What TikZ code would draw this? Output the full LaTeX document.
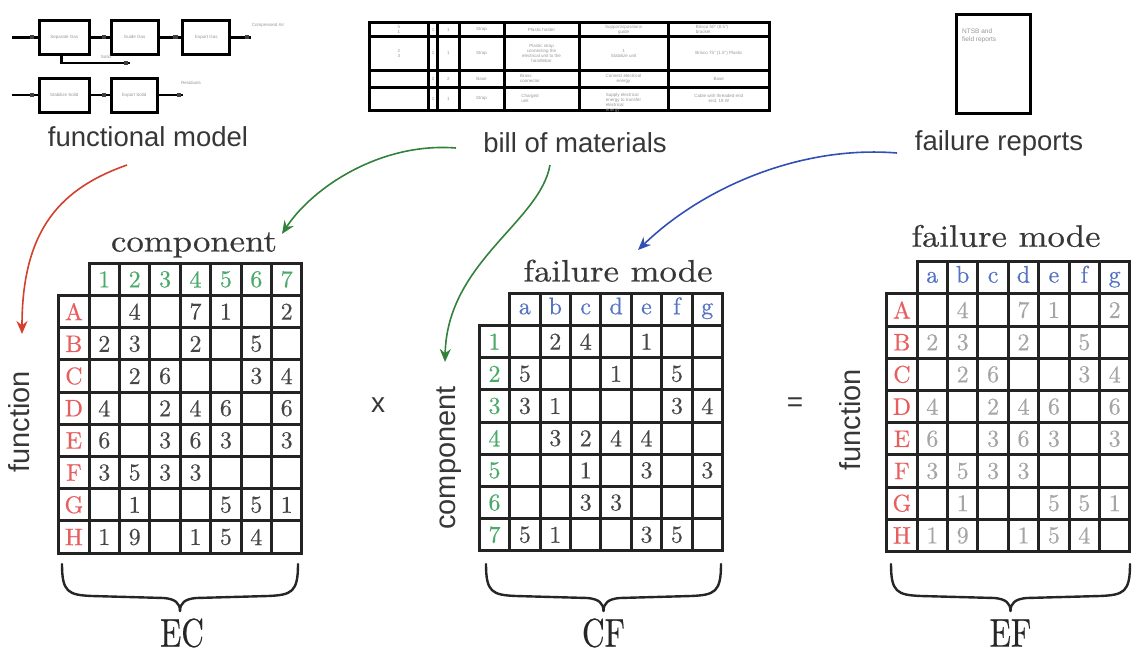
\documentclass[tikz,border=0pt]{standalone}
\usepackage{fontspec}
\newfontfamily\sansf{Liberation Sans}
\newfontfamily\serifm{lmroman10-regular}[Extension=.otf, FakeBold=0.5]
\usetikzlibrary{arrows.meta,decorations.markings}

\definecolor{gridc}{RGB}{35,35,35}
\definecolor{labc}{RGB}{55,55,55}
\definecolor{rowred}{RGB}{230,95,95}
\definecolor{colgreen}{RGB}{75,170,105}
\definecolor{fmblue}{RGB}{85,115,195}
\definecolor{valdark}{RGB}{70,70,70}
\definecolor{vallight}{RGB}{165,165,165}
\definecolor{arrred}{RGB}{210,65,45}
\definecolor{arrgreen}{RGB}{50,130,60}
\definecolor{arrblue}{RGB}{50,80,180}
\definecolor{tiny}{RGB}{150,150,150}

% cell size of the three matrices
\newcommand\mcw{30.4}
\newcommand\mch{32.2}

% grid of a matrix: left x, top y, number of body rows
\newcommand\matgrid[3]{%
  \draw[gridl] ({#1+\mcw},{#2}) rectangle ({#1+8*\mcw},{#2+\mch});
  \draw[gridl] ({#1},{#2+\mch}) rectangle ({#1+8*\mcw},{#2+(#3+1)*\mch});
  \foreach \k in {2,...,#3}
    \draw[gridl] ({#1},{#2+\k*\mch}) -- ({#1+8*\mcw},{#2+\k*\mch});
  \foreach \c in {1,...,7}
    \draw[gridl] ({#1+\c*\mcw},{#2}) -- ({#1+\c*\mcw},{#2+(#3+1)*\mch});
}

% entries of a matrix: prefix, left x, top y, colour, rows ("x" = empty cell)
\newcommand\matvals[5]{%
  \foreach \row [count=\i] in {#5} {
    \foreach \v [count=\j] in \row {
      \if\v x\else
        \node[cell, text=#4] (#1-\i-\j) at ({#2+(\j+0.5)*\mcw},{#3+(\i+0.5)*\mch}) {\v};
      \fi
    }
  }
}

% curly brace under a matrix: left x, right x, top y
\newcommand\matbrace[3]{%
  \pgfmathsetmacro\bm{(#1+#2)/2}
  \draw[bracel] (#1,#3) .. controls (#1,{#3+28}) and ({#1+6},{#3+31}) .. ({#1+30},{#3+32})
     -- ({\bm-16},{#3+34}) .. controls ({\bm-5},{#3+35}) and (\bm,{#3+39}) .. (\bm,{#3+47});
  \draw[bracel] (#2,#3) .. controls (#2,{#3+28}) and ({#2-6},{#3+31}) .. ({#2-30},{#3+32})
     -- ({\bm+16},{#3+34}) .. controls ({\bm+5},{#3+35}) and (\bm,{#3+39}) .. (\bm,{#3+47});
}

\begin{document}
\begin{tikzpicture}[x=1pt,y=-1pt,
  gridl/.style={line width=3pt, draw=gridc, line cap=rect},
  cell/.style={font=\serifm\fontsize{24}{24}\selectfont, inner sep=0pt},
  mtitle/.style={font=\serifm\fontsize{31}{31}\selectfont, text=labc, anchor=base, inner sep=0pt, xscale=1.12},
  sidelab/.style={font=\sansf\fontsize{29}{29}\selectfont, text=labc, rotate=90, anchor=base, inner sep=0pt},
  srclab/.style={font=\sansf\fontsize{27.5}{27.5}\selectfont, text=labc, inner sep=0pt},
  oplab/.style={font=\sansf\fontsize{28}{28}\selectfont, text=labc, inner sep=0pt},
  matname/.style={font=\serifm\fontsize{40}{40}\selectfont, text=black!85, xscale=0.78, inner sep=0pt},
  bracel/.style={line width=2.4pt, draw=black!85, line cap=round},
  fbox/.style={draw=black, line width=3pt, inner sep=0pt, minimum height=34pt,
    font=\sansf\fontsize{4.5}{5}\selectfont, text=tiny},
  flow/.style={line width=2.6pt, draw=black, postaction={decorate},
    decoration={markings, mark=at position #1 with {\fill[black!75] (-2.2,-2.2) rectangle (2.2,2.2);}}},
  flow/.default={-6pt},
  tinytxt/.style={font=\sansf\fontsize{4.5}{5.2}\selectfont, text=tiny, inner sep=0pt, align=center},
  bomline/.style={line width=3pt, draw=black, line cap=rect},
  srcarrow/.style={line width=1.6pt, -{Stealth[length=13pt,width=11pt]}},
]
\useasboundingbox (0,0) rectangle (1136,656);

%% ---------------- functional model ----------------
\node[fbox, minimum width=50pt]  (b1) at (64.3,37.2) {Separate Gas};
\node[fbox, minimum width=47pt]  (b2) at (134.7,37.2) {Guide Gas};
\node[fbox, minimum width=47pt]  (b3) at (206.3,37.2) {Export Gas};
\node[fbox, minimum width=50pt]  (b4) at (64.3,95) {Stabilize Solid};
\node[fbox, minimum width=46pt]  (b5) at (134.2,95) {Export Solid};
\coordinate (in1) at (12,37.2);
\coordinate (out1) at (251,37.2);
\coordinate (fb1) at (61.7,63);
\coordinate (fb2) at (130,63);
\coordinate (in2) at (12,95);
\coordinate (out2) at (183,95);
\draw[flow] (in1) -- (b1.west);
\draw[flow] (b1.east) -- (b2.west);
\draw[flow] (b2.east) -- (b3.west);
\draw[flow=-4pt] (b3.east) -- (out1);
\draw[flow=-4pt] (b1.south -| fb1) -- (fb1) -- (fb2);
\draw[flow] (in2) -- (b4.west);
\draw[flow] (b4.east) -- (b5.west);
\draw[flow=-4pt] (b5.east) -- (out2);
\node[tinytxt] (l1) at (268,25) {Compressed Air};
\node[tinytxt] (l2) at (106,57) {Solid};
\node[tinytxt] (l3) at (191,83) {Residuals};
\node[srclab] (fmlab) at (148,137) {functional model};

%% ---------------- bill of materials ----------------
\draw[bomline] (369.3,22.7) rectangle (769.3,110);
\foreach \yy in {36.7,70,87.3} \draw[bomline] (369.3,\yy) -- (769.3,\yy);
\foreach \xx in {428.3,437.7,459,504,579,668.3} \draw[bomline] (\xx,22.7) -- (\xx,110);
\node[tinytxt] (t11) at (398.8,29.7) {5\\1};
\node[tinytxt] (t12) at (433,29.7) {1};
\node[tinytxt] (t13) at (448.3,29.7) {1};
\node[tinytxt] (t14) at (481.5,29.7) {Strap};
\node[tinytxt] (t15) at (541.5,29.7) {Plastic holder};
\node[tinytxt] (t16) at (623.6,29.7) {Supports/positions\\guide};
\node[tinytxt, align=left] (t17) at (712,29.7) {Brisco 50" (8.5")\\bracket};
\node[tinytxt] (t21) at (398.8,53.3) {2\\3};
\node[tinytxt] (t22) at (433,53.3) {1};
\node[tinytxt] (t23) at (448.3,53.3) {1};
\node[tinytxt] (t24) at (481.5,53.3) {Strap};
\node[tinytxt] (t25) at (541.5,53.3) {Plastic strap\\connecting the\\electrical unit to the\\handlebar};
\node[tinytxt] (t26) at (623.6,53.3) {1\\Stabilize unit};
\node[tinytxt] (t27) at (718.8,53.3) {Brisco 75" (1.5") Plastic};
\node[tinytxt] (t32) at (433,78.6) {2};
\node[tinytxt] (t33) at (448.3,78.6) {2};
\node[tinytxt] (t34) at (481.5,78.6) {Base};
\node[tinytxt, align=left] (t35) at (530,78.6) {Brass\\connector};
\node[tinytxt] (t36) at (623.6,78.6) {Connect electrical\\energy};
\node[tinytxt] (t37) at (718.8,78.6) {Base};
\node[tinytxt] (t42) at (433,98.6) {1};
\node[tinytxt] (t43) at (448.3,98.6) {1};
\node[tinytxt] (t44) at (481.5,98.6) {Strap};
\node[tinytxt, align=left] (t45) at (530,98.6) {Charged\\unit};
\node[tinytxt, align=left] (t46) at (623.6,103) {Supply electrical\\energy to transfer\\electrical\\energy};
\node[tinytxt] (t47) at (718.8,98.6) {Cable with threaded end\\end, 18 W};
\node[srclab] (bomlab) at (575,143) {bill of materials};

%% ---------------- failure reports ----------------
\draw[line width=3pt] (956,14) rectangle (1030.7,113.3);
\node[tinytxt, font=\sansf\fontsize{6.5}{7.5}\selectfont, align=left, anchor=north west] (frtxt) at (962,29) {NTSB and\\field reports};
\node[srclab] (frlab) at (999,143) {failure reports};

%% ---------------- EC matrix ----------------
\matgrid{58.7}{263.3}{8}
\foreach \t [count=\j] in {1,...,7}
  \node[cell, text=colgreen] (ec-h\j) at ({58.7+(\j+0.5)*\mcw},{263.3+0.5*\mch}) {\t};
\foreach \t [count=\i] in {A,B,C,D,E,F,G,H}
  \node[cell, text=rowred] (ec-r\i) at ({58.7+0.5*\mcw},{263.3+(\i+0.5)*\mch}) {\t};
\matvals{ec}{58.7}{263.3}{valdark}{{x,4,x,7,1,x,2},{2,3,x,2,x,5,x},{x,2,6,x,x,3,4},{4,x,2,4,6,x,6},{6,x,3,6,3,x,3},{3,5,3,3,x,x,x},{x,1,x,x,5,5,1},{1,9,x,1,5,4,x}}
\node[mtitle] (ec-title) at (194,251.5) {component};
\node[sidelab] (ec-side) at (30,421.7) {function};

%% ---------------- CF matrix ----------------
\matgrid{479.3}{293.3}{7}
\foreach \t [count=\j] in {a,b,c,d,e,f,g}
  \node[cell, text=fmblue] (cf-h\j) at ({479.3+(\j+0.5)*\mcw},{293.3+0.5*\mch}) {\strut\t};
\foreach \t [count=\i] in {1,...,7}
  \node[cell, text=colgreen] (cf-r\i) at ({479.3+0.5*\mcw},{293.3+(\i+0.5)*\mch}) {\t};
\matvals{cf}{479.3}{293.3}{valdark}{{x,2,4,x,1,x,x},{5,x,x,1,x,5,x},{3,1,x,x,x,3,4},{x,3,2,4,4,x,x},{x,x,1,x,3,x,3},{x,x,3,3,x,x,x},{5,1,x,x,3,5,x}}
\node[mtitle] (cf-title) at (618,281.5) {failure mode};
\node[sidelab] (cf-side) at (455,458) {component};

%% ---------------- EF matrix ----------------
\matgrid{886.7}{261.7}{8}
\foreach \t [count=\j] in {a,b,c,d,e,f,g}
  \node[cell, text=fmblue] (ef-h\j) at ({886.7+(\j+0.5)*\mcw},{261.7+0.5*\mch}) {\strut\t};
\foreach \t [count=\i] in {A,B,C,D,E,F,G,H}
  \node[cell, text=rowred] (ef-r\i) at ({886.7+0.5*\mcw},{261.7+(\i+0.5)*\mch}) {\t};
\matvals{ef}{886.7}{261.7}{vallight}{{x,4,x,7,1,x,2},{2,3,x,2,x,5,x},{x,2,6,x,x,3,4},{4,x,2,4,6,x,6},{6,x,3,6,3,x,3},{3,5,3,3,x,x,x},{x,1,x,x,5,5,1},{1,9,x,1,5,4,x}}
\node[mtitle] (ef-title) at (1006,246.7) {failure mode};
\node[sidelab] (ef-side) at (860,420) {function};

%% ---------------- operators ----------------
\node[oplab] (times) at (378,405) {x};
\node[oplab] (equals) at (795,405) {=};

%% ---------------- braces and names ----------------
\matbrace{62}{298}{564}
\matbrace{486}{721}{564}
\matbrace{891}{1130}{564}
\node[matname] (ec-name) at (182,633) {EC};
\node[matname] (cf-name) at (603.5,633) {CF};
\node[matname] (ef-name) at (1010.5,633) {EF};

%% ---------------- source arrows ----------------
\coordinate (ra) at (127,165);
\coordinate (ga) at (456,148);
\coordinate (gb) at (550,165);
\coordinate (ba) at (897,153);
\coordinate (rend) at (22,334);
\coordinate (gend1) at (282,234);
\coordinate (gend2) at (445,362);
\coordinate (bend) at (638,250);
\draw[srcarrow, arrred] (ra) .. controls (62,188) and (22,228) .. (rend);
\draw[srcarrow, arrgreen] (ga) .. controls (380,142) and (312,188) .. (gend1);
\draw[srcarrow, arrgreen] (gb) .. controls (540,222) and (447,262) .. (gend2);
\draw[srcarrow, arrblue] (ba) .. controls (800,145) and (702,188) .. (bend);
\end{tikzpicture}
\end{document}
